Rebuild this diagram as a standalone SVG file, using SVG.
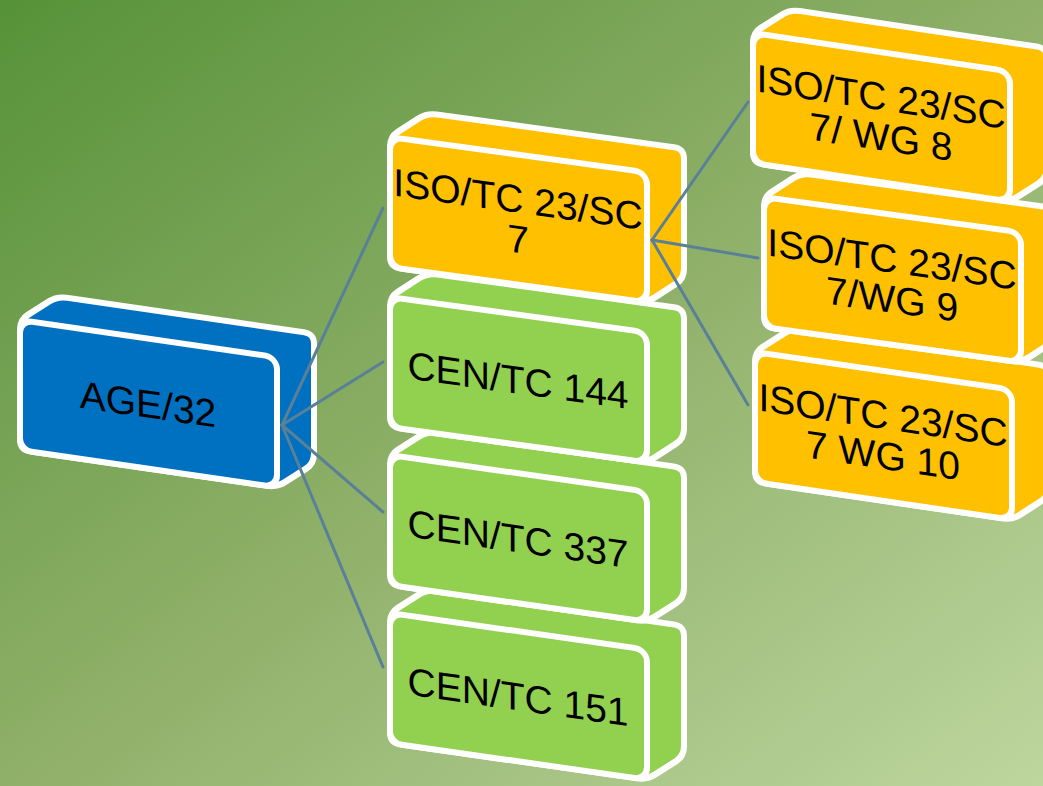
<svg xmlns="http://www.w3.org/2000/svg" width="1043" height="786" viewBox="0 0 1043 786">
<defs>
<linearGradient id="bg" x1="0" y1="0" x2="1" y2="1">
<stop offset="0" stop-color="#569238"/>
<stop offset="0.5" stop-color="#8fb069"/>
<stop offset="1" stop-color="#bdd69e"/>
</linearGradient>
<path id="sil" d="M0,10 Q0,0 7.87,-6.17 L29.13,-22.83 Q37,-29 47,-29 L284,-29 Q294,-29 294,-19 L294,91 Q294,101 286.13,107.17 L264.87,123.83 Q257,130 247,130 L10,130 Q0,130 0,120 Z" stroke="#ffffff" stroke-width="6" stroke-linejoin="round"/>
<rect id="front" x="0" y="0" width="257" height="130" rx="12" stroke="#ffffff" stroke-width="6"/>
</defs>
<style>
.blue{fill:#0070C0}
.orange{fill:#FFC000}
.green{fill:#92D050}
text{font-family:"Liberation Sans",Arial,sans-serif;font-size:39px;fill:#000000;text-anchor:middle}
.conn line{stroke:#5a8098;stroke-width:3;stroke-linecap:round}
</style>
<rect x="0" y="0" width="1043" height="786" fill="url(#bg)"/>

<g id="node-age32" class="blue" transform="matrix(1,0.145,0,1,20,320)">
<use href="#sil"/><use href="#front"/>
<text x="128" y="79">AGE/32</text>
</g>

<g id="node-cen151" class="green" transform="matrix(1,0.143,0,1,390,613)">
<use href="#sil"/><use href="#front"/>
<text x="128" y="79">CEN/TC 151</text>
</g>
<g id="node-cen337" class="green" transform="matrix(1,0.143,0,1,390,455)">
<use href="#sil"/><use href="#front"/>
<text x="128" y="79">CEN/TC 337</text>
</g>
<g id="node-cen144" class="green" transform="matrix(1,0.138,0,1,390,297)">
<use href="#sil"/><use href="#front"/>
<text x="128" y="79">CEN/TC 144</text>
</g>
<g id="node-sc7" class="orange" transform="matrix(1,0.138,0,1,390,137)">
<use href="#sil"/><use href="#front"/>
<text x="128" y="58">ISO/TC 23/SC</text>
<text x="128" y="98">7</text>
</g>

<g id="node-wg10" class="orange" transform="matrix(1,0.147,0,1,755,352)">
<use href="#sil"/><use href="#front"/>
<text x="128" y="58">ISO/TC 23/SC</text>
<text x="128" y="98">7 WG 10</text>
</g>
<g id="node-wg9" class="orange" transform="matrix(1,0.138,0,1,764,197)">
<use href="#sil"/><use href="#front"/>
<text x="128" y="58">ISO/TC 23/SC</text>
<text x="128" y="98">7/WG 9</text>
</g>
<g id="node-wg8" class="orange" transform="matrix(1,0.15,0,1,753,33)">
<use href="#sil"/><use href="#front"/>
<text x="128" y="58">ISO/TC 23/SC</text>
<text x="128" y="98">7/ WG 8</text>
</g>

<g id="connectors" class="conn">
<line x1="282" y1="425" x2="383" y2="208"/>
<line x1="282" y1="425" x2="383" y2="362"/>
<line x1="282" y1="425" x2="383" y2="512"/>
<line x1="282" y1="425" x2="383" y2="667"/>
<line x1="652" y1="240" x2="748" y2="102"/>
<line x1="652" y1="240" x2="758" y2="258"/>
<line x1="652" y1="240" x2="748" y2="405"/>
</g>
</svg>
